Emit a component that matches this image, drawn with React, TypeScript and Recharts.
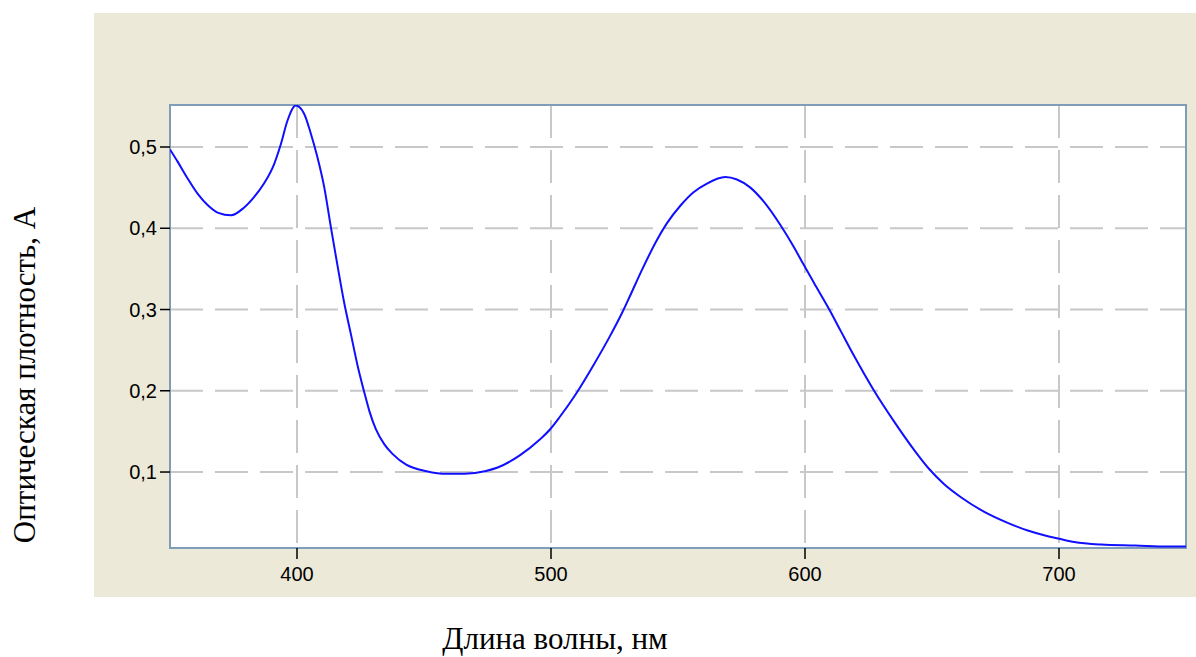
import React from "react";
import {
  LineChart,
  Line,
  XAxis,
  YAxis,
  CartesianGrid,
  ReferenceArea
} from "recharts";

// wavelength, nm
const wavelengths = [
  350, 353, 357, 361, 365, 369, 374, 379, 383, 387, 391, 393.6, 396.2, 399.5,
  402.8, 405.4, 408, 410.7, 413.3, 416, 418.6, 421.2, 424, 426.5, 428.5, 431,
  434.4, 437.7, 443, 451, 459, 466, 474, 479, 487.7, 495.6, 499.5, 503.5, 510,
  517, 523, 528, 531, 536, 541.6, 545.6, 551, 556, 561.4, 568.6, 573.2, 578.5,
  583.7, 590.3, 595.6, 599.5, 603.5, 609.4, 614, 619.3, 627.2, 635.1, 643,
  648.8, 654.8, 661.4, 670.6, 679.8, 687.7, 695.6, 700.2, 706, 716.6, 730,
  743, 750
];

// optical density, A
const absorbance = [
  0.497, 0.482, 0.461, 0.442, 0.428, 0.419, 0.416, 0.425, 0.438, 0.455, 0.479,
  0.503, 0.532, 0.551, 0.541, 0.517, 0.488, 0.451, 0.402, 0.353, 0.308, 0.27,
  0.229, 0.198, 0.175, 0.153, 0.134, 0.122, 0.109, 0.101, 0.0978, 0.098, 0.101,
  0.1055, 0.1205, 0.14, 0.152, 0.168, 0.197, 0.233, 0.266, 0.296, 0.316, 0.35,
  0.385, 0.406, 0.428, 0.444, 0.455, 0.463, 0.46, 0.45, 0.433, 0.404, 0.377,
  0.355, 0.333, 0.301, 0.274, 0.243, 0.2, 0.162, 0.127, 0.104, 0.085, 0.069,
  0.051, 0.0375, 0.028, 0.021, 0.0178, 0.0138, 0.0107, 0.0095, 0.0082, 0.0082
];

const xTicks = [400, 500, 600, 700];
const yTicks = [0.1, 0.2, 0.3, 0.4, 0.5];
const xDomain: [number, number] = [350, 750];
const yDomain: [number, number] = [0.0065, 0.5517];

const xTitle = "Длина волны, нм";
const yTitle = "Оптическая плотность, А";

const data = wavelengths.map((wl, i) => ({ wl, a: absorbance[i] }));

const tickStyle = { fill: "#000", fontSize: 20, fontFamily: "'Liberation Sans', Arial, sans-serif" };
const titleStyle: React.CSSProperties = {
  position: "absolute",
  fontFamily: "'Liberation Serif', 'Times New Roman', serif",
  fontSize: 31,
  lineHeight: 1,
  color: "#000",
  whiteSpace: "nowrap"
};

export default function App() {
  return (
    <div style={{ position: "absolute", left: 0, top: 0, width: 1196, height: 657, background: "#fff" }}>
      <div style={{ position: "absolute", left: 94, top: 13, width: 1102, height: 584, background: "#ECE9D8" }}>
        <LineChart
          width={1102}
          height={584}
          data={data}
          margin={{ top: 92, right: 10, left: 0, bottom: 0 }}
        >
          <CartesianGrid
            fill="#ffffff"
            stroke="#c8c8c8"
            strokeWidth={2}
            strokeDasharray="33 12"
          />
          <XAxis
            dataKey="wl"
            type="number"
            domain={xDomain}
            ticks={xTicks}
            allowDataOverflow
            height={49}
            axisLine={false}
            tickSize={11}
            tickMargin={8}
            tickLine={{ stroke: "#000", strokeWidth: 1.5 }}
            tick={tickStyle}
          />
          <YAxis
            type="number"
            domain={yDomain}
            ticks={yTicks}
            allowDataOverflow
            width={76}
            axisLine={false}
            tickSize={10}
            tickMargin={3}
            tickLine={{ stroke: "#000", strokeWidth: 1.5 }}
            tick={tickStyle}
            tickFormatter={(v: number) => v.toFixed(1).replace(".", ",")}
          />
          <ReferenceArea
            x1={xDomain[0]}
            x2={xDomain[1]}
            y1={yDomain[0]}
            y2={yDomain[1]}
            fill="none"
            fillOpacity={0}
            stroke="#7F9DB9"
            strokeWidth={2}
          />
          <Line
            type="monotone"
            dataKey="a"
            stroke="#1010ff"
            strokeWidth={2}
            dot={false}
            isAnimationActive={false}
          />
        </LineChart>
      </div>
      <div
        style={{
          ...titleStyle,
          left: 24,
          top: 375,
          transform: "translate(-50%, -50%) rotate(-90deg)"
        }}
      >
        {yTitle}
      </div>
      <div style={{ ...titleStyle, left: 555, top: 623, transform: "translateX(-50%)" }}>
        {xTitle}
      </div>
    </div>
  );
}
